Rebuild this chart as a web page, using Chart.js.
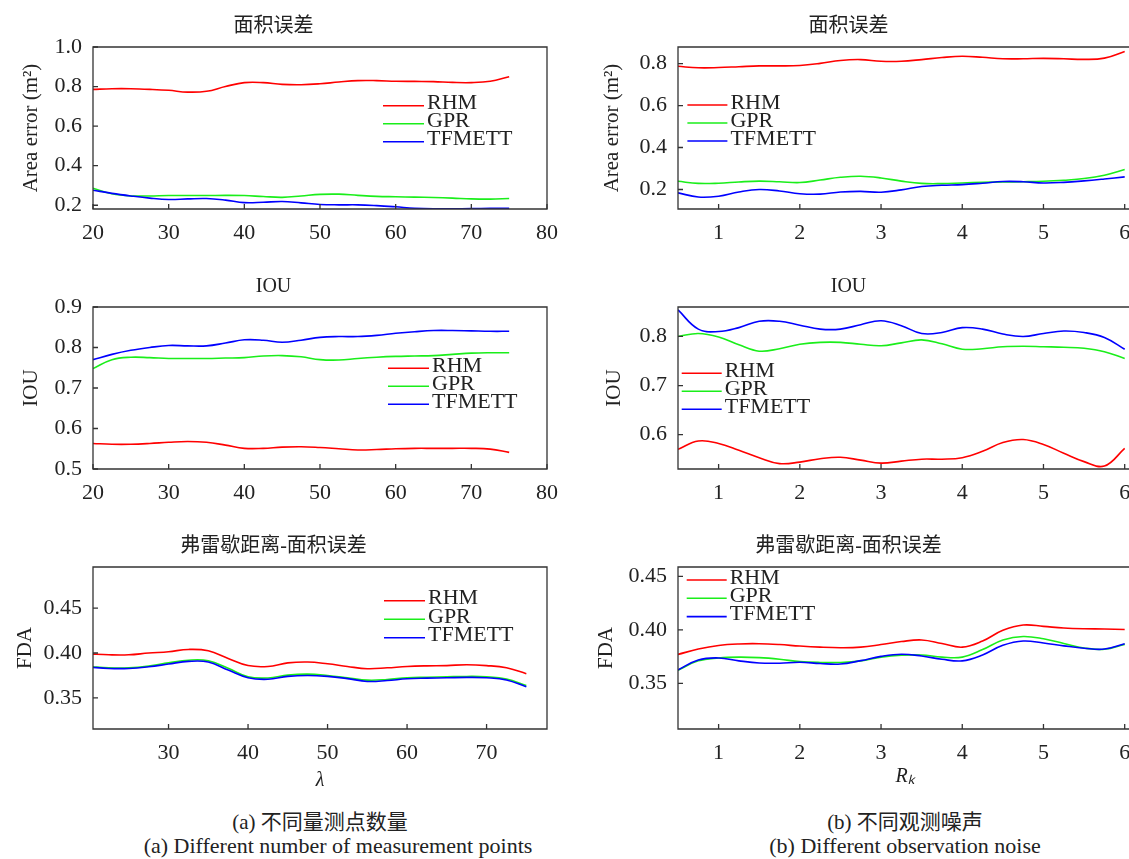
<!DOCTYPE html>
<html>
<head>
<meta charset="utf-8">
<script src="https://cdn.jsdelivr.net/npm/chart.js@4.4.1/dist/chart.umd.min.js"></script>
<style>
  html, body { margin: 0; padding: 0; background: #fff; width: 1129px; height: 859px; overflow: hidden; position: relative; }
  canvas { position: absolute; }
  .cap { position: absolute; width: 600px; text-align: center; color: #222;
         font-family: "Liberation Serif", "Noto Sans CJK SC", serif; font-size: 21px; line-height: 24px; white-space: nowrap; }
  .en { font-size: 22px; }
</style>
</head>
<body>
<div class="cap" style="left:20px;top:810px">(a) 不同量测点数量</div>
<div class="cap en" style="left:38px;top:834px">(a) Different number of measurement points</div>
<div class="cap" style="left:605px;top:810px">(b) 不同观测噪声</div>
<div class="cap en" style="left:605px;top:834px">(b) Different observation noise</div>

<script>
// ---- methods ----
const methods = ['RHM', 'GPR', 'TFMETT'];
const methodColors = ['#ff0000', '#1aee1a', '#0000ff'];

// ---- x samples ----
const lambdaX = [20, 22.5, 25, 27.5, 30, 32.5, 35, 37.5, 40, 42.5, 45, 47.5, 50, 52.5, 55, 57.5, 60, 62.5, 65, 67.5, 70, 72.5, 75];
const rkX = [0.5, 0.75, 1, 1.25, 1.5, 1.75, 2, 2.25, 2.5, 2.75, 3, 3.25, 3.5, 3.75, 4, 4.25, 4.5, 4.75, 5, 5.25, 5.5, 5.75, 6];

// ---- area error vs. number of measurement points ----
const areaLamRHM = [0.786, 0.789, 0.789, 0.786, 0.781, 0.772, 0.776, 0.800, 0.820, 0.820, 0.811, 0.809, 0.814, 0.823, 0.830, 0.830, 0.827, 0.826, 0.825, 0.821, 0.820, 0.827, 0.850];
const areaLamGPR = [0.286, 0.258, 0.247, 0.247, 0.249, 0.249, 0.249, 0.250, 0.249, 0.244, 0.240, 0.247, 0.255, 0.256, 0.250, 0.245, 0.243, 0.241, 0.239, 0.236, 0.232, 0.231, 0.234];
const areaLamTF  = [0.276, 0.260, 0.247, 0.236, 0.229, 0.232, 0.234, 0.226, 0.213, 0.215, 0.219, 0.212, 0.204, 0.202, 0.202, 0.198, 0.192, 0.185, 0.182, 0.182, 0.183, 0.184, 0.185];

// ---- IOU vs. number of measurement points ----
const iouLamRHM = [0.563, 0.561, 0.561, 0.563, 0.566, 0.568, 0.566, 0.559, 0.551, 0.551, 0.554, 0.555, 0.553, 0.550, 0.547, 0.548, 0.550, 0.551, 0.551, 0.551, 0.551, 0.549, 0.541];
const iouLamGPR = [0.748, 0.770, 0.776, 0.775, 0.773, 0.773, 0.773, 0.774, 0.775, 0.779, 0.780, 0.777, 0.770, 0.769, 0.773, 0.776, 0.778, 0.779, 0.780, 0.783, 0.786, 0.787, 0.787];
const iouLamTF  = [0.770, 0.783, 0.793, 0.800, 0.805, 0.804, 0.804, 0.811, 0.819, 0.818, 0.813, 0.818, 0.825, 0.827, 0.827, 0.830, 0.835, 0.839, 0.842, 0.842, 0.841, 0.840, 0.840];

// ---- FDA vs. number of measurement points ----
const fdaLamRHM = [0.399, 0.398, 0.398, 0.400, 0.4015, 0.404, 0.4025, 0.394, 0.386, 0.385, 0.389, 0.390, 0.388, 0.385, 0.3825, 0.3835, 0.385, 0.3857, 0.386, 0.387, 0.386, 0.3835, 0.377];
const fdaLamGPR = [0.385, 0.3835, 0.3835, 0.3855, 0.389, 0.392, 0.3914, 0.383, 0.3735, 0.3722, 0.3754, 0.3765, 0.375, 0.3725, 0.3698, 0.3705, 0.3724, 0.373, 0.3735, 0.3739, 0.3735, 0.371, 0.3638];
const fdaLamTF  = [0.3843, 0.3828, 0.3828, 0.3847, 0.3877, 0.3907, 0.390, 0.381, 0.3724, 0.3707, 0.374, 0.375, 0.374, 0.3715, 0.3683, 0.3693, 0.3713, 0.372, 0.3724, 0.3728, 0.3724, 0.370, 0.3623];

// ---- area error vs. observation noise ----
const areaRkRHM = [0.787, 0.780, 0.781, 0.785, 0.789, 0.789, 0.791, 0.801, 0.815, 0.819, 0.811, 0.811, 0.819, 0.829, 0.835, 0.830, 0.823, 0.823, 0.825, 0.823, 0.820, 0.826, 0.858];
const areaRkGPR = [0.239, 0.229, 0.230, 0.236, 0.240, 0.237, 0.233, 0.245, 0.258, 0.263, 0.255, 0.240, 0.229, 0.228, 0.231, 0.234, 0.236, 0.237, 0.239, 0.244, 0.252, 0.268, 0.295];
const areaRkTF  = [0.184, 0.164, 0.168, 0.188, 0.200, 0.193, 0.180, 0.178, 0.188, 0.191, 0.187, 0.198, 0.214, 0.220, 0.223, 0.230, 0.238, 0.237, 0.231, 0.234, 0.241, 0.250, 0.260];

// ---- IOU vs. observation noise ----
const iouRkRHM = [0.570, 0.587, 0.582, 0.568, 0.553, 0.541, 0.544, 0.551, 0.554, 0.548, 0.542, 0.546, 0.550, 0.550, 0.553, 0.566, 0.584, 0.590, 0.580, 0.562, 0.545, 0.536, 0.572];
const iouRkGPR = [0.800, 0.806, 0.799, 0.783, 0.770, 0.775, 0.784, 0.788, 0.788, 0.784, 0.781, 0.787, 0.793, 0.785, 0.774, 0.775, 0.779, 0.780, 0.779, 0.778, 0.776, 0.769, 0.755];
const iouRkTF  = [0.854, 0.815, 0.810, 0.818, 0.831, 0.831, 0.823, 0.815, 0.815, 0.824, 0.832, 0.822, 0.806, 0.808, 0.818, 0.815, 0.805, 0.800, 0.806, 0.811, 0.808, 0.798, 0.774];

// ---- FDA vs. observation noise ----
const fdaRkRHM = [0.377, 0.382, 0.3854, 0.3868, 0.387, 0.3862, 0.3848, 0.3838, 0.3833, 0.3838, 0.3862, 0.389, 0.3905, 0.3872, 0.3838, 0.3895, 0.3995, 0.4045, 0.4032, 0.4017, 0.401, 0.4008, 0.4003];
const fdaRkGPR = [0.3622, 0.371, 0.3737, 0.3745, 0.374, 0.3725, 0.3703, 0.3695, 0.3695, 0.371, 0.3745, 0.3763, 0.3764, 0.3745, 0.3745, 0.3815, 0.3905, 0.3938, 0.3916, 0.3872, 0.383, 0.3818, 0.3864];
const fdaRkTF  = [0.3625, 0.3718, 0.3737, 0.371, 0.369, 0.3688, 0.3697, 0.3685, 0.368, 0.3712, 0.3752, 0.3772, 0.3755, 0.3725, 0.371, 0.3765, 0.3855, 0.3895, 0.3876, 0.385, 0.3828, 0.382, 0.387];

// ---- tick values ----
const lamXTicks = [20, 30, 40, 50, 60, 70, 80];
const lamFdaXTicks = [30, 40, 50, 60, 70];
const rkXTicks = [1, 2, 3, 4, 5, 6];
const areaLamYTicks = [0.2, 0.4, 0.6, 0.8, 1.0];
const areaRkYTicks = [0.2, 0.4, 0.6, 0.8];
const iouLamYTicks = [0.5, 0.6, 0.7, 0.8, 0.9];
const iouRkYTicks = [0.6, 0.7, 0.8];
const fdaYTicks = [0.35, 0.40, 0.45];

// ---- shared styling ----
const FONT = '"Liberation Serif", "Noto Sans CJK SC", serif';
const INK = '#222222';
const AXIS = '#333333';
const TICK_SIZE = 22;

// frame box with inward ticks, plus an in-plot legend
const framePlugin = {
  id: 'frameBox',
  afterDatasetsDraw(chart, args, opts) {
    const { ctx, chartArea: a, scales } = chart;
    ctx.save();
    ctx.strokeStyle = AXIS;
    ctx.lineWidth = 1.3;
    ctx.beginPath();
    ctx.rect(a.left, a.top, a.right - a.left, a.bottom - a.top);
    ctx.stroke();
    ctx.beginPath();
    scales.x.ticks.forEach(t => {
      const px = scales.x.getPixelForValue(t.value);
      ctx.moveTo(px, a.bottom); ctx.lineTo(px, a.bottom - 5);
    });
    scales.y.ticks.forEach(t => {
      const py = scales.y.getPixelForValue(t.value);
      ctx.moveTo(a.left, py); ctx.lineTo(a.left + 5, py);
    });
    ctx.stroke();

    // legend
    const lg = opts.legend;
    ctx.font = '22px ' + FONT;
    ctx.textBaseline = 'middle';
    ctx.textAlign = 'left';
    chart.data.datasets.forEach((ds, i) => {
      const y = a.top + lg.dy + i * lg.row;
      const x0 = a.left + lg.dx;
      ctx.strokeStyle = ds.borderColor;
      ctx.lineWidth = 1.6;
      ctx.beginPath();
      ctx.moveTo(x0, y); ctx.lineTo(x0 + lg.len, y);
      ctx.stroke();
      ctx.fillStyle = INK;
      ctx.fillText(ds.label, x0 + lg.len + 3, y - 2);
    });
    ctx.restore();
  }
};

function makePanel(p) {
  const titleTop = 7, titleLH = 24, titleBottom = 8;
  const top = p.frame.t - (titleTop + titleLH + titleBottom);
  const xH = p.xTitle ? 70 : 40;
  const padR = 24;
  const W = p.frame.r - p.cx + padR;
  const H = p.frame.b - top + xH;
  const cv = document.createElement('canvas');
  cv.width = W; cv.height = H;
  cv.style.left = p.cx + 'px';
  cv.style.top = top + 'px';
  cv.style.width = W + 'px';
  cv.style.height = H + 'px';
  document.body.appendChild(cv);

  const datasets = p.series.map((vals, i) => ({
    label: methods[i],
    data: p.xs.map((x, k) => ({ x: x, y: vals[k] })),
    borderColor: methodColors[i],
    backgroundColor: methodColors[i],
    borderWidth: 1.6,
    pointRadius: 0,
    tension: 0.4,
    fill: false,
    order: 3 - i
  }));

  const yW = p.frame.l - p.cx;
  new Chart(cv, {
    type: 'line',
    data: { datasets },
    plugins: [framePlugin],
    options: {
      responsive: false,
      animation: false,
      devicePixelRatio: 1,
      layout: { padding: { left: 0, top: 0, bottom: 0, right: padR } },
      plugins: {
        legend: { display: false },
        tooltip: { enabled: false },
        title: {
          display: true, text: p.title, color: INK,
          font: { family: FONT, size: 20, weight: 'normal', lineHeight: 1.2 },
          padding: { top: titleTop, bottom: titleBottom }
        },
        frameBox: { legend: p.legend }
      },
      scales: {
        x: {
          type: 'linear', min: p.xMin, max: p.xMax,
          grid: { display: false }, border: { display: false },
          ticks: {
            padding: 3, color: INK, autoSkip: false, maxRotation: 0,
            font: { family: FONT, size: TICK_SIZE },
            callback: v => String(v)
          },
          afterBuildTicks: s => { s.ticks = p.xTicks.map(v => ({ value: v })); },
          afterFit: s => { s.height = xH; s.paddingLeft = 0; s.paddingRight = 0; },
          title: {
            display: !!p.xTitle, text: p.xTitle || '', color: INK,
            font: { family: FONT, size: 20, style: 'italic', lineHeight: 1.2 },
            padding: { top: 0, bottom: p.xTitlePad || 0 }
          }
        },
        y: {
          type: 'linear', min: p.yMin, max: p.yMax,
          grid: { display: false }, border: { display: false },
          ticks: {
            padding: 3, color: INK, autoSkip: false,
            font: { family: FONT, size: TICK_SIZE },
            callback: v => Number(v).toFixed(p.yDec)
          },
          afterBuildTicks: s => { s.ticks = p.yTicks.map(v => ({ value: v })); },
          afterFit: s => { s.width = yW; s.paddingTop = 0; s.paddingBottom = 0; },
          title: {
            display: true, text: p.yTitle, color: INK,
            font: { family: FONT, size: 21, lineHeight: 1.2 },
            padding: { top: p.yTitleX - p.cx - 12.6, bottom: 0 }
          }
        }
      }
    }
  });
}

const LEFT = { l: 93, r: 547 };
const RIGHT = { l: 678, r: 1132 };
const ROWS = [{ t: 47, b: 209 }, { t: 307, b: 469 }, { t: 567, b: 729 }];

makePanel({
  cx: 0, frame: { ...LEFT, ...ROWS[0] }, title: '面积误差',
  yTitle: 'Area error (m²)', yTitleX: 31,
  xMin: 20, xMax: 80, yMin: 0.181, yMax: 1.0, xTicks: lamXTicks, yTicks: areaLamYTicks, yDec: 1,
  xs: lambdaX, series: [areaLamRHM, areaLamGPR, areaLamTF],
  legend: { dx: 290, dy: 58.7, row: 18, len: 41 }
});
makePanel({
  cx: 565, frame: { ...RIGHT, ...ROWS[0] }, title: '面积误差',
  yTitle: 'Area error (m²)', yTitleX: 612,
  xMin: 0.5, xMax: 6.09, yMin: 0.107, yMax: 0.879, xTicks: rkXTicks, yTicks: areaRkYTicks, yDec: 1,
  xs: rkX, series: [areaRkRHM, areaRkGPR, areaRkTF],
  legend: { dx: 9.4, dy: 58, row: 18, len: 40 }
});
makePanel({
  cx: 0, frame: { ...LEFT, ...ROWS[1] }, title: 'IOU',
  yTitle: 'IOU', yTitleX: 31,
  xMin: 20, xMax: 80, yMin: 0.5, yMax: 0.9, xTicks: lamXTicks, yTicks: iouLamYTicks, yDec: 1,
  xs: lambdaX, series: [iouLamRHM, iouLamGPR, iouLamTF],
  legend: { dx: 295, dy: 61.3, row: 18, len: 41 }
});
makePanel({
  cx: 565, frame: { ...RIGHT, ...ROWS[1] }, title: 'IOU',
  yTitle: 'IOU', yTitleX: 614,
  xMin: 0.5, xMax: 6.09, yMin: 0.530, yMax: 0.860, xTicks: rkXTicks, yTicks: iouRkYTicks, yDec: 1,
  xs: rkX, series: [iouRkRHM, iouRkGPR, iouRkTF],
  legend: { dx: 3.7, dy: 66.3, row: 18, len: 40 }
});
makePanel({
  cx: 0, frame: { ...LEFT, ...ROWS[2] }, title: '弗雷歇距离-面积误差',
  yTitle: 'FDA', yTitleX: 25, xTitle: 'λ', xTitlePad: 6,
  xMin: 20.5, xMax: 77.6, yMin: 0.3153, yMax: 0.4959, xTicks: lamFdaXTicks, yTicks: fdaYTicks, yDec: 2,
  xs: lambdaX, series: [fdaLamRHM, fdaLamGPR, fdaLamTF],
  legend: { dx: 291, dy: 33.7, row: 18.5, len: 41 }
});
makePanel({
  cx: 565, frame: { ...RIGHT, ...ROWS[2] }, title: '弗雷歇距离-面积误差',
  yTitle: 'FDA', yTitleX: 606, xTitle: 'Rₖ', xTitlePad: 10,
  xMin: 0.5, xMax: 6.09, yMin: 0.3073, yMax: 0.4587, xTicks: rkXTicks, yTicks: fdaYTicks, yDec: 2,
  xs: rkX, series: [fdaRkRHM, fdaRkGPR, fdaRkTF],
  legend: { dx: 8.7, dy: 13, row: 18.3, len: 40 }
});
</script>
</body>
</html>
